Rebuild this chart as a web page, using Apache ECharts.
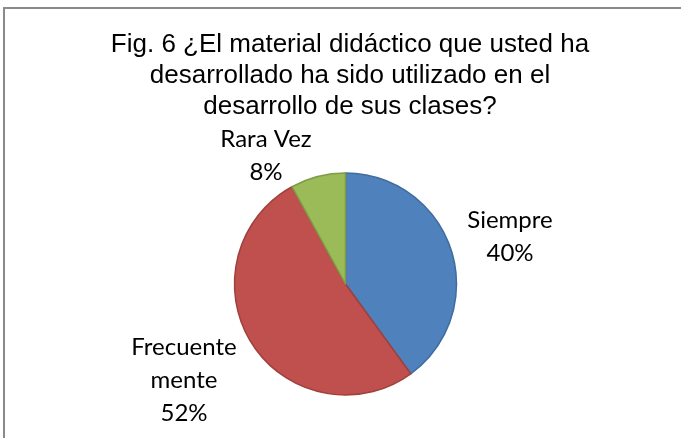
<!DOCTYPE html>
<html>
<head>
<meta charset="utf-8">
<script src="https://cdn.jsdelivr.net/npm/echarts@6/dist/echarts.min.js"></script>
<style>
  html, body { margin: 0; padding: 0; background: #fff; }
  #chart { width: 681px; height: 438px; }
</style>
</head>
<body>
<div id="chart"></div>
<script>
// ---- data ----
const titleText = 'Fig. 6 ¿El material didáctico que usted ha\ndesarrollado ha sido utilizado en el\ndesarrollo de sus clases?';
const categories = ['Siempre', 'Frecuentemente', 'Rara Vez'];
const values = [40, 52, 8];

// ---- styles / layout ----
const fills = ['#4F81BD', '#C0504D', '#9BBB59'];
const strokes = ['#3F6D9F', '#A0403D', '#7E9B45'];
const pieCenter = [345.5, 284];
const pieRadius = 111;
const labelOffsets = [[164.5, -47], [-161.5, 96], [-79.5, -128]];
const labelWidths = [120, 108, 120];

const chart = echarts.init(document.getElementById('chart'), null, { renderer: 'canvas' });

chart.setOption({
  animation: false,
  backgroundColor: '#ffffff',
  title: {
    text: titleText,
    left: 345,
    top: 24,
    textAlign: 'center',
    textStyle: {
      fontFamily: 'Liberation Sans',
      fontSize: 26,
      fontWeight: 'normal',
      color: '#000000',
      lineHeight: 31
    }
  },
  graphic: [{
    type: 'rect',
    shape: { x: 4, y: 8, width: 760, height: 520 },
    style: { fill: 'none', stroke: '#8A8A8A', lineWidth: 2 },
    silent: true,
    z: -1
  }],
  series: [{
    type: 'pie',
    center: pieCenter,
    radius: pieRadius,
    startAngle: 90,
    clockwise: true,
    avoidLabelOverlap: false,
    label: {
      show: true,
      position: 'outside',
      formatter: '{b}\n{d}%',
      fontFamily: 'Lato',
      fontSize: 24,
      color: '#000000',
      lineHeight: 33,
      align: 'center',
      overflow: 'breakAll'
    },
    labelLine: { show: false },
    labelLayout: function (p) {
      const o = labelOffsets[p.dataIndex];
      return {
        x: pieCenter[0] + o[0],
        y: pieCenter[1] + o[1],
        align: 'center',
        verticalAlign: 'middle'
      };
    },
    emphasis: { disabled: true },
    data: categories.map((c, i) => ({
      name: c,
      value: values[i],
      itemStyle: { color: fills[i], borderColor: strokes[i], borderWidth: 1.5 },
      label: { width: labelWidths[i] }
    }))
  }]
});
</script>
</body>
</html>
